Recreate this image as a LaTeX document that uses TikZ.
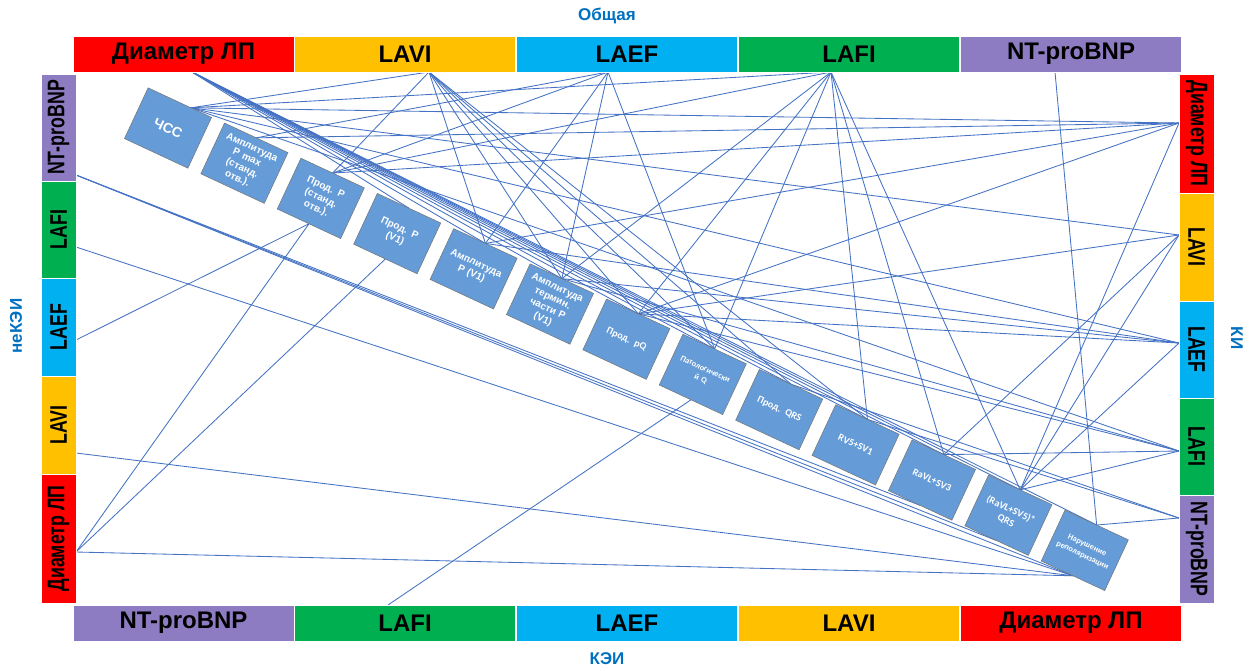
\documentclass[tikz,border=0pt]{standalone}
\usepackage{fontspec}
\setmainfont{Liberation Sans}
\newfontfamily\sidefont[FakeStretch=0.74]{Liberation Sans}
\newfontfamily\calfont{Carlito}
\usetikzlibrary{calc,backgrounds}
\definecolor{cRed}{HTML}{FF0000}
\definecolor{cYel}{HTML}{FFC000}
\definecolor{cBlu}{HTML}{00B0F0}
\definecolor{cGrn}{HTML}{00B050}
\definecolor{cPur}{HTML}{8E7CC3}
\definecolor{lnk}{HTML}{4472C4}
\definecolor{boxf}{HTML}{659CD8}
\definecolor{grpc}{HTML}{0070C0}
\begin{document}
\begin{tikzpicture}[x=1pt,y=-1pt,
  seg/.style={draw=white, line width=1pt, inner sep=0pt, outer sep=0pt, text=black, minimum height=36pt},
  hseg/.style={seg, minimum width=221pt, font=\fontsize{24}{28}\selectfont\bfseries},
  vsegL/.style={seg, rotate=90, minimum height=35pt, font=\sidefont\fontsize{24}{28}\selectfont\bfseries},
  vsegR/.style={seg, rotate=-90, minimum height=35pt, font=\sidefont\fontsize{24}{28}\selectfont\bfseries},
  ecg/.style={draw=black!55, line width=0.5pt, fill=boxf, text=white, minimum width=70pt, minimum height=56pt, inner sep=1pt, outer sep=0pt, rotate=-25, align=center, text width=66pt},
  ecgA/.style={ecg, font=\fontsize{10}{11.5}\selectfont\bfseries},
  ecgC/.style={ecg, font=\calfont\fontsize{10}{12}\selectfont\bfseries},
  ecgS/.style={ecg, font=\calfont\fontsize{8.3}{11}\selectfont\bfseries},
  lk/.style={draw=lnk, line width=0.85pt},
  grp/.style={text=grpc, font=\fontsize{17}{20}\selectfont\bfseries}
]
\useasboundingbox (0,0) rectangle (1257,670);

% group labels
\node[grp] (gTop) at (607,16) {Общая};
\node[grp] (gBot) at (607,659) {КЭИ};
\node[grp, rotate=90] (gLeft) at (16,326) {неКЭИ};
\node[grp, rotate=-90] (gRight) at (1237,338) {КИ};

% top bar
\node[hseg, fill=cRed] (tD) at (183.5,54) {Диаметр ЛП};
\node[hseg, fill=cYel] (tLAVI) at (405,54) {LAVI};
\node[hseg, fill=cBlu] (tLAEF) at (627,54) {LAEF};
\node[hseg, fill=cGrn] (tLAFI) at (849,54) {LAFI};
\node[hseg, fill=cPur] (tNT) at (1071,54) {NT-proBNP};
% bottom bar
\node[hseg, fill=cPur] (bNT) at (183.5,623) {NT-proBNP};
\node[hseg, fill=cGrn] (bLAFI) at (405,623) {LAFI};
\node[hseg, fill=cBlu] (bLAEF) at (627,623) {LAEF};
\node[hseg, fill=cYel] (bLAVI) at (849,623) {LAVI};
\node[hseg, fill=cRed] (bD) at (1071,623) {Диаметр ЛП};
% left bar
\node[vsegL, fill=cPur, minimum width=107pt] (lNT) at (58.5,127.5) {NT-proBNP};
\node[vsegL, fill=cGrn, minimum width=97pt] (lLAFI) at (58.5,229.5) {LAFI};
\node[vsegL, fill=cBlu, minimum width=98pt] (lLAEF) at (58.5,327) {LAEF};
\node[vsegL, fill=cYel, minimum width=98pt] (lLAVI) at (58.5,425) {LAVI};
\node[vsegL, fill=cRed, minimum width=129pt] (lD) at (58.5,538.5) {Диаметр ЛП};
% right bar
\node[vsegR, fill=cRed, minimum width=119pt] (rD) at (1196.5,133.5) {Диаметр ЛП};
\node[vsegR, fill=cYel, minimum width=108pt] (rLAVI) at (1196.5,247) {LAVI};
\node[vsegR, fill=cBlu, minimum width=97pt] (rLAEF) at (1196.5,349.5) {LAEF};
\node[vsegR, fill=cGrn, minimum width=97pt] (rLAFI) at (1196.5,446.5) {LAFI};
\node[vsegR, fill=cPur, minimum width=108pt] (rNT) at (1196.5,549) {NT-proBNP};

% ECG boxes
\node[ecg, font=\fontsize{14}{16}\selectfont\bfseries] (b1) at (168,128) {ЧСС};
\node[ecgA] (b2) at (244.4,163.2) {Амплитуда\\P max\\(станд.\\отв.).};
\node[ecgA] (b3) at (320.8,198.4) {Прод. P\\(станд.\\отв.).};
\node[ecgA] (b4) at (397.2,233.6) {Прод. P\\(V1)};
\node[ecgA] (b5) at (473.6,268.8) {Амплитуда\\P (V1)};
\node[ecgA] (b6) at (550,304) {Амплитуда\\термин.\\части P\\(V1)};
\node[ecgC] (b7) at (626.4,339.2) {Прод. pQ};
\node[ecgS] (b8) at (702.8,374.4) {Патологически\\й Q};
\node[ecgC] (b9) at (779.2,409.6) {Прод. QRS};
\node[ecgC] (b10) at (855.6,444.8) {RV5+SV1};
\node[ecgC] (b11) at (932,480) {RaVL+SV3};
\node[ecgC] (b12) at (1008.4,515.2) {(RaVL+SV5)*\\QRS};
\node[ecgS] (b13) at (1084.8,550.4) {Нарушение\\реполяризации};

% anchor points
\coordinate (t1) at ($(b1.north)!0.35!(b1.north east)$);
\foreach \i in {2,...,13} {\coordinate (t\i) at (b\i.north);}
\foreach \i in {1,...,13} {\coordinate (s\i) at (b\i.south);}
\coordinate (aTD) at ($(tD.center)+(8.5,18)$);
\coordinate (aTLAVI) at ($(tLAVI.center)+(24,18)$);
\coordinate (aTLAEF) at ($(tLAEF.center)+(-19,18)$);
\coordinate (aTLAFI) at ($(tLAFI.center)+(-18,18)$);
\coordinate (aTNT) at ($(tNT.center)+(-16,18)$);
\coordinate (aRD) at ($(rD.center)+(-17.5,-10.5)$);
\coordinate (aRLAVI) at ($(rLAVI.center)+(-17.5,-12)$);
\coordinate (aRLAEF) at ($(rLAEF.center)+(-17.5,-6.5)$);
\coordinate (aRLAFI) at ($(rLAFI.center)+(-17.5,4.5)$);
\coordinate (aRNT) at ($(rNT.center)+(-17.5,-31)$);
\coordinate (aLNT) at ($(lNT.center)+(17.5,47.5)$);
\coordinate (aLLAFI) at ($(lLAFI.center)+(17.5,17.5)$);
\coordinate (aLLAEF) at ($(lLAEF.center)+(17.5,13)$);
\coordinate (aLLAVI) at ($(lLAVI.center)+(17.5,28)$);
\coordinate (aLD) at ($(lD.center)+(17.5,13.5)$);
\coordinate (aBLAFI) at ($(bLAFI.center)+(-17,-18)$);

\begin{pgfonlayer}{background}
\fill[white] (0,0) rectangle (1257,670);
% top: Общая
\foreach \i in {4,...,13} {\draw[lk] (aTD) -- (t\i);}
\foreach \i in {1,3,5,6,7,8,9,10} {\draw[lk] (aTLAVI) -- (t\i);}
\foreach \i in {2,3,5,6,8} {\draw[lk] (aTLAEF) -- (t\i);}
\foreach \i in {1,3,6,7,8,10,11,12} {\draw[lk] (aTLAFI) -- (t\i);}
\draw[lk] (aTNT) -- (t13);
% right: КИ
\foreach \i in {1,2,3,5,7,12} {\draw[lk] (aRD) -- (t\i);}
\foreach \i in {1,7,11,12} {\draw[lk] (aRLAVI) -- (t\i);}
\foreach \i in {1,5,6,7,12} {\draw[lk] (aRLAEF) -- (t\i);}
\foreach \i in {1,6,7,11,12} {\draw[lk] (aRLAFI) -- (t\i);}
\foreach \i in {9,10,13} {\draw[lk] (aRNT) -- (t\i);}
% left: неКЭИ
\foreach \i in {11,12,13} {\draw[lk] (aLNT) -- (s\i);}
\draw[lk] (aLLAFI) -- (s13);
\draw[lk] (aLLAEF) -- (s3);
\draw[lk] (aLLAVI) -- (s13);
\foreach \i in {3,4,13} {\draw[lk] (aLD) -- (s\i);}
% bottom: КЭИ
\draw[lk] (aBLAFI) -- (s8);
\end{pgfonlayer}
\end{tikzpicture}
\end{document}
